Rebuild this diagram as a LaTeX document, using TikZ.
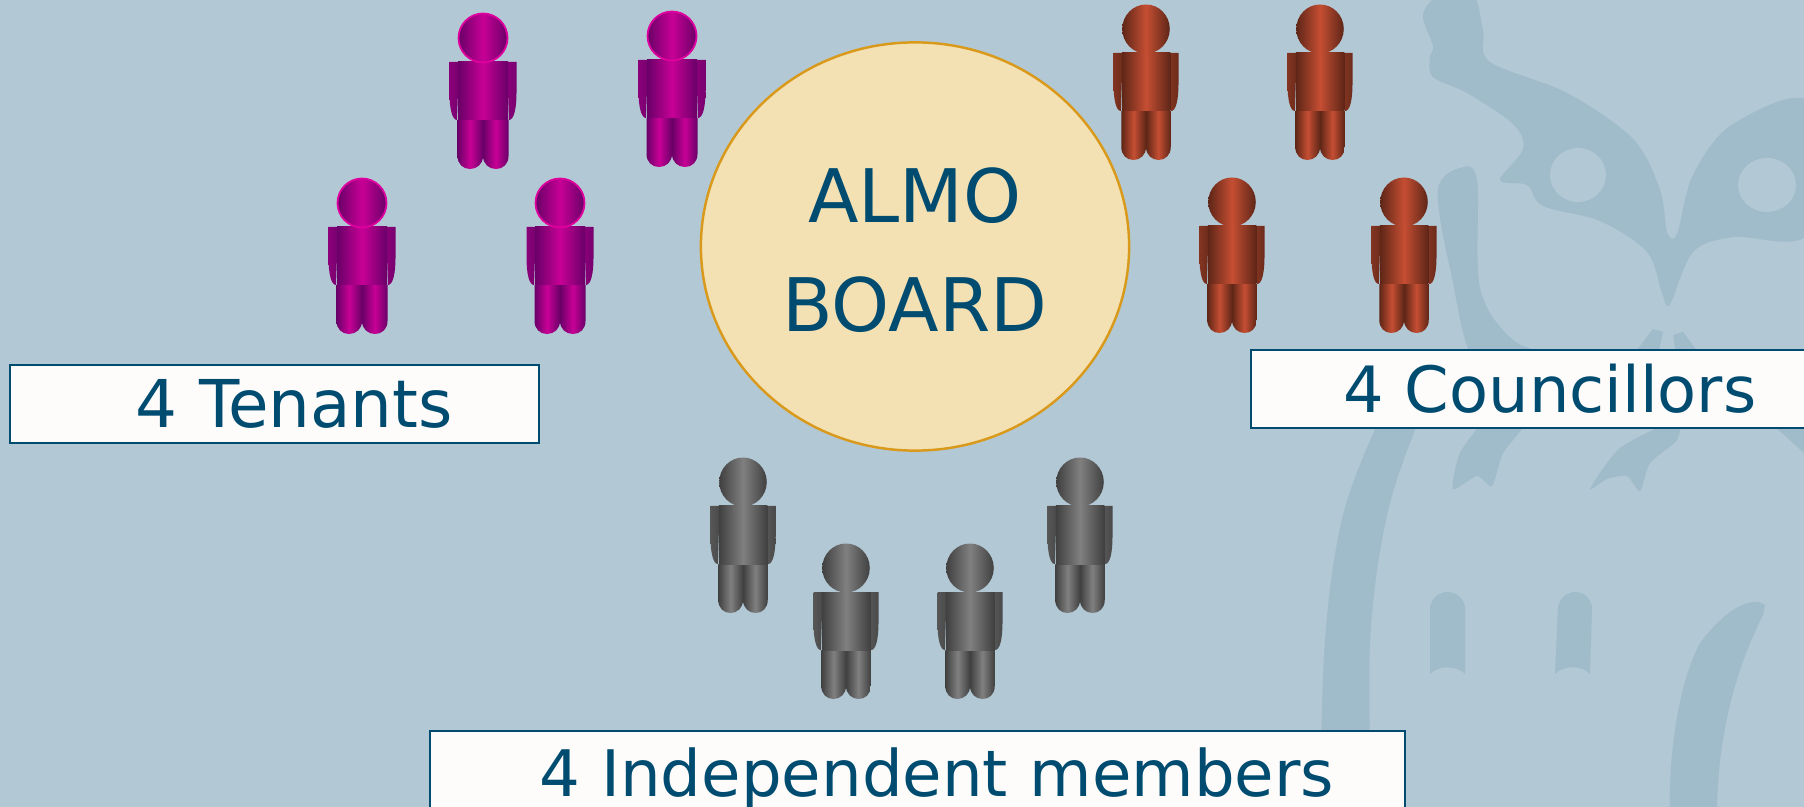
\documentclass[tikz,border=0pt]{standalone}
\usepackage{fontspec}
\setmainfont{DejaVu Sans}
\usetikzlibrary{shapes.geometric}
\definecolor{BackClr}{HTML}{B2C8D4}
\definecolor{CrestClr}{HTML}{A0BBCA}
\definecolor{TextClr}{HTML}{004B70}
\definecolor{BoardClr}{HTML}{F3E0B3}
\definecolor{BoardLine}{HTML}{D99A1C}
\definecolor{BoxClr}{HTML}{FDFCFB}
\definecolor{pinkDark}{HTML}{690068}
\definecolor{pinkLight}{HTML}{C80096}
\definecolor{pinkEdge}{HTML}{E0009F}
\definecolor{redDark}{HTML}{5E2617}
\definecolor{redLight}{HTML}{C54E33}
\definecolor{grayDark}{HTML}{404040}
\definecolor{grayLight}{HTML}{808080}

\tikzset{
  boxlabel/.style={draw=TextClr,line width=.6pt,fill=BoxClr,anchor=north west,
    inner xsep=0pt,inner ysep=0pt,align=left,text=TextClr},
  crest/.style={fill=CrestClr,draw=none},
  cresthole/.style={fill=BackClr,draw=none},
  limb/.style={left color=#1Dark,right color=#1Dark,middle color=#1Light,draw=none},
  sidearm/.style={left color=#1Dark!65!#1Light,right color=#1Dark!85!#1Light,draw=none},
  pinkrim/.style={draw=pinkEdge,line width=.5pt},
  redrim/.style={},
  grayrim/.style={}
}

% one figure: #1 centre x, #2 top y, #3 colour family, #4 width scale
\newcommand{\Person}[4]{
\begin{scope}[shift={(#1,#2)},xscale=#4]
\path[sidearm=#3] (-33.5,49) -- (-33.5,80) .. controls (-33.5,95) and (-31,107) .. (-26,107) -- (-24,49) -- cycle;
\path[sidearm=#3] (33.5,49) -- (33.5,80) .. controls (33.5,95) and (31,107) .. (26,107) -- (24,49) -- cycle;
\path[limb=#3] (-25.5,107) -- (-25.5,143) .. controls (-25.5,151) and (-20,156) .. (-13,156) .. controls (-6,156) and (0,151) .. (0,143) -- (0,107) -- cycle;
\path[limb=#3] (0,107) -- (0,143) .. controls (0,151) and (6,156) .. (13,156) .. controls (20,156) and (25.5,151) .. (25.5,143) -- (25.5,107) -- cycle;
\path[limb=#3] (-25,49) rectangle (25,107);
\path[limb=#3,#3rim] (0,25) ellipse [x radius=24.5,y radius=24.5];
\end{scope}
}

\begin{document}
\begin{tikzpicture}[x=0.01cm,y=-0.01cm]
\useasboundingbox (0,0) rectangle (1804,807);
\clip (0,0) rectangle (1804,807);
\fill[BackClr] (0,0) rectangle (1804,807);

% watermark
\path[crest] plot[smooth cycle,tension=.55] coordinates {(1423,15) (1440,-5) (1473,-5) (1483,31) (1490,62) (1567,93) (1633,139) (1660,190) (1667,232) (1677,234) (1693,175) (1733,124) (1810,103) (1810,232) (1733,237) (1693,252) (1670,304) (1662,293) (1647,252) (1600,221) (1543,206) (1527,185) (1500,180) (1523,149) (1513,124) (1467,93) (1433,77) (1430,57) (1433,46)};
\path[cresthole] (1578,175) ellipse [x radius=28,y radius=27];
\path[cresthole] (1767,185) ellipse [x radius=29,y radius=27];
\path[crest] plot[smooth cycle,tension=.55] coordinates {(1460,168) (1477,180) (1480,288) (1513,340) (1560,360) (1480,370) (1450,268) (1438,190)};
\path[crest] plot[smooth,tension=.6] coordinates {(1417,425) (1387,515) (1370,643) (1372,815)} -- plot[smooth,tension=.6] coordinates {(1320,815) (1325,640) (1343,515) (1377,425)} -- cycle;
\path[crest] plot[smooth cycle,tension=.4] coordinates {(1453,489) (1460,453) (1487,420) (1527,420) (1503,453) (1492,486) (1477,476)};
\path[crest] plot[smooth cycle,tension=.4] coordinates {(1590,489) (1620,448) (1677,420) (1677,440) (1650,463) (1640,491) (1627,476) (1607,479)};
\path[crest] (1633,355) -- (1653,329) -- (1663,332) -- (1658,355) -- cycle;
\path[crest] (1673,335) -- (1683,332) -- (1700,355) -- (1676,355) -- cycle;
\path[crest] (1773,425) -- (1804,453) -- (1810,425) -- cycle;
\path[crest] (1430,674) -- (1430,607) .. controls (1432,597) and (1440,592) .. (1447,592) .. controls (1455,592) and (1463,597) .. (1465,607) -- (1465,674) .. controls (1458,666) and (1440,664) .. (1430,674) -- cycle;
\path[crest] (1555,674) -- (1558,607) .. controls (1560,597) and (1568,592) .. (1575,592) .. controls (1583,592) and (1590,597) .. (1592,607) -- (1590,674) .. controls (1583,666) and (1565,664) .. (1555,674) -- cycle;
\path[crest] (1765,605) .. controls (1755,597) and (1730,603) .. (1700,643) .. controls (1680,680) and (1668,750) .. (1670,815) -- (1717,815) .. controls (1717,750) and (1730,680) .. (1763,615) -- cycle;

% board
\node[ellipse,draw=BoardLine,line width=.7pt,fill=BoardClr,minimum width=4.28cm,minimum height=4.08cm,
  inner sep=0pt,align=center,text=TextClr,font=\fontsize{21}{31}\selectfont] (board) at (915,246.5) {\rule{0pt}{17.6pt}ALMO\\BOARD};

% figures
\foreach \px/\py in {483/13,672/11,362/178,560/178}
  \Person{\px}{\py}{pink}{1};
\foreach \px/\py in {1146/4,1320/4,1232/177,1404/177}
  \Person{\px}{\py}{red}{.97};
\foreach \px/\py in {743/457,846/543,970/543,1080/457}
  \Person{\px}{\py}{gray}{.97};

% labels
\node[boxlabel,text width=5.29cm,minimum height=.78cm,font=\fontsize{18.75}{22}\selectfont] (tenants) at (9,364) {\hspace*{1.25cm}4 Tenants};
\node[boxlabel,text width=5.7cm,minimum height=.78cm,font=\fontsize{18.15}{22}\selectfont] (councillors) at (1250,349) {\hspace*{.92cm}4 Councillors};
\node[boxlabel,text width=9.74cm,minimum height=.96cm,font=\fontsize{18.25}{22}\selectfont] (independent) at (429,730) {\hspace*{1.09cm}4 Independent members};
\end{tikzpicture}
\end{document}
